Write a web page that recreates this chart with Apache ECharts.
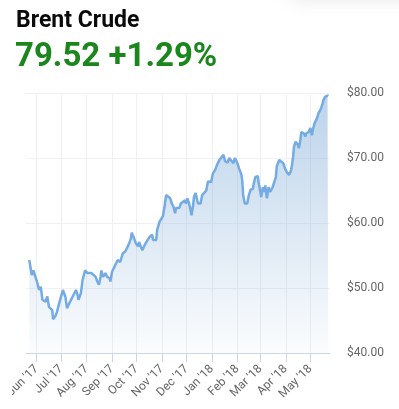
<!DOCTYPE html>
<html>
<head>
<meta charset="utf-8">
<script src="https://cdn.jsdelivr.net/npm/echarts@6/dist/echarts.min.js"></script>
<style>
html,body{margin:0;padding:0;background:#fff;}
#chart{width:399px;height:409px;}
</style>
</head>
<body>
<div id="chart"></div>
<script>
var titleText = 'Brent Crude';
var priceText = '79.52 +1.29%';

var dates = [
'2017-05-23','2017-05-25','2017-05-26','2017-05-28','2017-05-30','2017-06-02','2017-06-04','2017-06-06','2017-06-07','2017-06-08',
'2017-06-10','2017-06-12','2017-06-14','2017-06-16','2017-06-18','2017-06-20','2017-06-21','2017-06-24','2017-06-26','2017-06-29',
'2017-07-02','2017-07-03','2017-07-06','2017-07-08','2017-07-10','2017-07-13','2017-07-15','2017-07-17','2017-07-19','2017-07-21',
'2017-07-22','2017-07-25','2017-07-27','2017-07-30','2017-08-02','2017-08-04','2017-08-07','2017-08-09','2017-08-12','2017-08-14',
'2017-08-16','2017-08-18','2017-08-19','2017-08-21','2017-08-24','2017-08-26','2017-08-29','2017-08-30','2017-09-01','2017-09-03',
'2017-09-06','2017-09-08','2017-09-11','2017-09-14','2017-09-17','2017-09-19','2017-09-21','2017-09-24','2017-09-25','2017-09-28',
'2017-09-30','2017-10-03','2017-10-04','2017-10-06','2017-10-08','2017-10-10','2017-10-13','2017-10-15','2017-10-17','2017-10-20',
'2017-10-21','2017-10-23','2017-10-25','2017-10-26','2017-10-29','2017-10-31','2017-11-02','2017-11-04','2017-11-06','2017-11-08',
'2017-11-11','2017-11-13','2017-11-15','2017-11-17','2017-11-18','2017-11-20','2017-11-22','2017-11-24','2017-11-26','2017-11-29',
'2017-11-30','2017-12-02','2017-12-04','2017-12-05','2017-12-07','2017-12-09','2017-12-10','2017-12-12','2017-12-14','2017-12-15',
'2017-12-18','2017-12-20','2017-12-22','2017-12-25','2017-12-27','2017-12-29','2017-12-31','2018-01-02','2018-01-05','2018-01-07',
'2018-01-10','2018-01-12','2018-01-15','2018-01-17','2018-01-20','2018-01-22','2018-01-24','2018-01-27','2018-01-29','2018-02-01',
'2018-02-03','2018-02-06','2018-02-07','2018-02-08','2018-02-10','2018-02-12','2018-02-13','2018-02-15','2018-02-17','2018-02-20',
'2018-02-21','2018-02-23','2018-02-26','2018-02-27','2018-03-01','2018-03-02','2018-03-04','2018-03-06','2018-03-07','2018-03-09',
'2018-03-11','2018-03-13','2018-03-16','2018-03-18','2018-03-20','2018-03-21','2018-03-24','2018-03-26','2018-03-29','2018-03-31',
'2018-04-02','2018-04-03','2018-04-05','2018-04-07','2018-04-08','2018-04-10','2018-04-11','2018-04-13','2018-04-16','2018-04-17',
'2018-04-19','2018-04-20','2018-04-23','2018-04-25','2018-04-26','2018-04-28','2018-04-29','2018-05-01','2018-05-03','2018-05-04',
'2018-05-06','2018-05-07','2018-05-09','2018-05-11','2018-05-12','2018-05-14','2018-05-16','2018-05-17','2018-05-19','2018-05-20',
'2018-05-22','2018-05-23'
];

var prices = [
54.3,54.2,52.0,52.7,52.5,50.7,49.7,50.2,50.0,48.2,
48.4,47.9,48.7,47.1,47.4,46.6,45.2,45.7,46.4,47.9,
49.2,49.7,48.7,46.9,46.9,48.2,48.7,48.4,49.7,48.9,
48.2,49.2,51.2,52.7,52.3,52.5,52.3,52.5,51.7,51.0,
50.5,51.7,52.7,51.7,52.3,51.7,51.5,51.0,52.5,52.8,
53.8,54.3,54.0,55.3,55.6,55.3,56.6,57.6,58.5,57.6,
56.9,56.4,57.1,56.4,55.8,56.4,57.1,57.4,57.9,58.2,
57.4,57.6,57.4,58.9,60.2,60.5,61.0,62.5,64.3,64.0,
63.8,63.0,62.5,61.5,62.3,62.5,62.3,63.0,63.3,63.5,
63.0,63.8,63.0,62.5,61.2,62.8,64.0,64.6,63.5,63.0,
63.0,64.3,64.5,65.0,66.4,66.6,66.3,67.6,68.2,68.9,
69.7,70.0,70.5,69.5,69.3,70.0,70.2,69.2,70.0,69.2,
68.4,67.4,66.4,64.3,63.0,62.8,63.0,64.3,65.1,65.3,
66.1,67.1,67.2,66.1,64.8,64.0,65.5,64.8,65.8,63.8,
65.5,64.8,65.5,65.8,67.1,68.7,69.7,69.4,69.2,68.4,
67.9,68.2,67.4,67.9,68.4,70.2,71.7,72.5,72.0,71.5,
72.9,74.0,73.8,73.3,73.8,73.5,74.0,74.6,73.5,74.3,
75.3,75.3,76.1,76.9,77.1,77.6,78.4,78.9,79.4,79.2,
79.6,79.52
];

var monthTicks = ['2017-06-01','2017-07-01','2017-08-01','2017-09-01','2017-10-01','2017-11-01',
                  '2017-12-01','2018-01-01','2018-02-01','2018-03-01','2018-04-01','2018-05-01'];
var monthNames = ['Jan','Feb','Mar','Apr','May','Jun','Jul','Aug','Sep','Oct','Nov','Dec'];
var axisStart = '2017-05-19';
var axisEnd = '2018-05-25';
var yTicks = [40, 50, 60, 70, 80];

function ts(s){ var p = s.split('-'); return Date.UTC(+p[0], +p[1]-1, +p[2]); }

var seriesData = dates.map(function(d, i){ return [ts(d), prices[i]]; });
var tickValues = monthTicks.map(ts);

var chart = echarts.init(document.getElementById('chart'), null, {renderer:'canvas'});
chart.setOption({
  animation: false,
  backgroundColor: '#ffffff',
  textStyle: { fontFamily: 'Roboto, sans-serif' },
  graphic: [
    { type: 'rect', shape: { x: 290, y: -40, width: 180, height: 36 },
      style: { fill: '#fff', shadowBlur: 22, shadowColor: 'rgba(0,0,0,0.13)' }, z: -1 },
    { type: 'text', left: 16, top: 10,
      style: { text: titleText, fill: '#0a0a0a', font: 'bold 23px Roboto, sans-serif' } },
    { type: 'text', left: 15, top: 41,
      style: { text: priceText, fill: '#1b861b', font: 'bold 33px Roboto, sans-serif' } },
    { type: 'rect', shape: { x: 0, y: 356, width: 12, height: 53 },
      style: { fill: '#ffffff' }, z: 100 }
  ],
  grid: { left: 26, right: 69, top: 93, bottom: 56, containLabel: false },
  xAxis: {
    type: 'value',
    min: ts(axisStart),
    max: ts(axisEnd),
    axisLine: { show: true, lineStyle: { color: '#ccd6eb', width: 1 } },
    axisTick: { show: true, length: 9, lineStyle: { color: '#ccd6eb' }, customValues: tickValues },
    splitLine: { show: true, lineStyle: { color: '#eef0f4', width: 1 } },
    axisLabel: {
      customValues: tickValues,
      rotate: 45,
      color: '#666',
      fontSize: 12,
      margin: 14,
      hideOverlap: false,
      formatter: function(v){
        var d = new Date(v);
        return monthNames[d.getUTCMonth()] + " '" + String(d.getUTCFullYear()).slice(2);
      }
    }
  },
  yAxis: {
    type: 'value',
    position: 'right',
    min: yTicks[0],
    max: yTicks[yTicks.length-1],
    interval: 10,
    axisLine: { show: false },
    axisTick: { show: false },
    splitLine: { show: true, lineStyle: { color: '#f0f1f4', width: 1 } },
    axisLabel: {
      color: '#666',
      fontSize: 12,
      margin: 17,
      formatter: function(v){ return '$' + v.toFixed(2); }
    }
  },
  series: [{
    type: 'line',
    data: seriesData,
    showSymbol: false,
    smooth: false,
    lineStyle: { color: '#74abe3', width: 2.5 },
    areaStyle: {
      color: new echarts.graphic.LinearGradient(0, 0, 0, 1, [
        { offset: 0, color: 'rgba(110,160,210,0.66)' },
        { offset: 1, color: 'rgba(110,160,210,0.04)' }
      ])
    }
  }]
});
</script>
</body>
</html>
